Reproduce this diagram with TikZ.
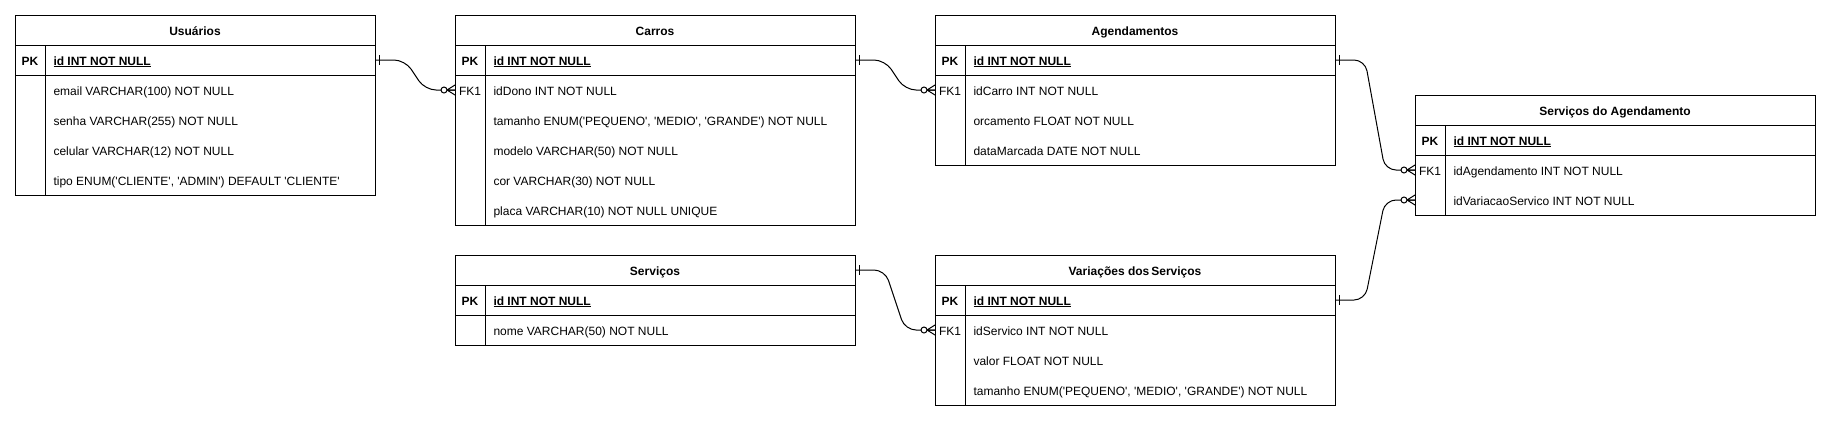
\documentclass[tikz,border=0pt,12pt]{standalone}
\usepackage{fontspec}
\setmainfont{Liberation Sans}[Ligatures=TeXOff]
\usetikzlibrary{positioning}

\tikzset{
  tbltitle/.style={draw, minimum width=#1, minimum height=30pt, inner sep=0pt, outer sep=0pt,
    text height=10pt, text depth=0pt, font=\bfseries},
  row/.style={minimum width=#1, minimum height=30pt, inner sep=0pt, outer sep=0pt},
  keylbl/.style={anchor=center, xshift=15pt, inner sep=0pt, text height=10pt, text depth=0pt},
  pklbl/.style={keylbl, font=\bfseries},
  fld/.style={anchor=west, xshift=38pt, inner sep=0pt, text height=10pt, text depth=0pt},
  pkfld/.style={fld, font=\bfseries},
  rel/.style={rounded corners=11pt},
  erone/.pic={\draw (4,-5) -- (4,5);},
  erzeromany/.pic={
    \draw (-8,0) -- (0,-5) (-8,0) -- (0,0) (-8,0) -- (0,5);
    \draw[fill=white] (-11,0) circle (3pt);
  }
}

\begin{document}
\begin{tikzpicture}[x=1pt, y=-1pt, line width=1pt]
\useasboundingbox[fill=white] (0,0) rectangle (1831,421);

% Usuarios
\node[tbltitle=360pt] (usr) at (195,30) {Usuários};
\node[row=360pt, draw, below=0pt of usr, label={[pklbl]west:PK}, label={[pkfld]west:{\underline{id INT NOT NULL}}}] (usr-id) {};
\node[row=360pt, below=0pt of usr-id, label={[fld]west:{email VARCHAR(100) NOT NULL}}] (usr-email) {};
\node[row=360pt, below=0pt of usr-email, label={[fld]west:{senha VARCHAR(255) NOT NULL}}] (usr-senha) {};
\node[row=360pt, below=0pt of usr-senha, label={[fld]west:{celular VARCHAR(12) NOT NULL}}] (usr-cel) {};
\node[row=360pt, below=0pt of usr-cel, label={[fld]west:{tipo ENUM('CLIENTE', 'ADMIN') DEFAULT 'CLIENTE'}}] (usr-tipo) {};
\draw (usr-email.north west) rectangle (usr-tipo.south east);
\draw ([xshift=30pt]usr-id.north west) -- ([xshift=30pt]usr-tipo.south west);

% Carros
\node[tbltitle=400pt] (car) at (655,30) {Carros};
\node[row=400pt, draw, below=0pt of car, label={[pklbl]west:PK}, label={[pkfld]west:{\underline{id INT NOT NULL}}}] (car-id) {};
\node[row=400pt, below=0pt of car-id, label={[keylbl]west:FK1}, label={[fld]west:{idDono INT NOT NULL}}] (car-dono) {};
\node[row=400pt, below=0pt of car-dono, label={[fld]west:{tamanho ENUM('PEQUENO', 'MEDIO', 'GRANDE') NOT NULL}}] (car-tam) {};
\node[row=400pt, below=0pt of car-tam, label={[fld]west:{modelo VARCHAR(50) NOT NULL}}] (car-mod) {};
\node[row=400pt, below=0pt of car-mod, label={[fld]west:{cor VARCHAR(30) NOT NULL}}] (car-cor) {};
\node[row=400pt, below=0pt of car-cor, label={[fld]west:{placa VARCHAR(10) NOT NULL UNIQUE}}] (car-placa) {};
\draw (car-dono.north west) rectangle (car-placa.south east);
\draw ([xshift=30pt]car-id.north west) -- ([xshift=30pt]car-placa.south west);

% Agendamentos
\node[tbltitle=400pt] (age) at (1135,30) {Agendamentos};
\node[row=400pt, draw, below=0pt of age, label={[pklbl]west:PK}, label={[pkfld]west:{\underline{id INT NOT NULL}}}] (age-id) {};
\node[row=400pt, below=0pt of age-id, label={[keylbl]west:FK1}, label={[fld]west:{idCarro INT NOT NULL}}] (age-carro) {};
\node[row=400pt, below=0pt of age-carro, label={[fld]west:{orcamento FLOAT NOT NULL}}] (age-orc) {};
\node[row=400pt, below=0pt of age-orc, label={[fld]west:{dataMarcada DATE NOT NULL}}] (age-data) {};
\draw (age-carro.north west) rectangle (age-data.south east);
\draw ([xshift=30pt]age-id.north west) -- ([xshift=30pt]age-data.south west);

% Servicos do Agendamento
\node[tbltitle=400pt] (sda) at (1615,110) {Serviços do Agendamento};
\node[row=400pt, draw, below=0pt of sda, label={[pklbl]west:PK}, label={[pkfld]west:{\underline{id INT NOT NULL}}}] (sda-id) {};
\node[row=400pt, below=0pt of sda-id, label={[keylbl]west:FK1}, label={[fld]west:{idAgendamento INT NOT NULL}}] (sda-age) {};
\node[row=400pt, below=0pt of sda-age, label={[fld]west:{idVariacaoServico INT NOT NULL}}] (sda-var) {};
\draw (sda-age.north west) rectangle (sda-var.south east);
\draw ([xshift=30pt]sda-id.north west) -- ([xshift=30pt]sda-var.south west);

% Servicos
\node[tbltitle=400pt] (srv) at (655,270) {Serviços};
\node[row=400pt, draw, below=0pt of srv, label={[pklbl]west:PK}, label={[pkfld]west:{\underline{id INT NOT NULL}}}] (srv-id) {};
\node[row=400pt, below=0pt of srv-id, label={[fld]west:{nome VARCHAR(50) NOT NULL}}] (srv-nome) {};
\draw (srv-nome.north west) rectangle (srv-nome.south east);
\draw ([xshift=30pt]srv-id.north west) -- ([xshift=30pt]srv-nome.south west);

% Variacoes dos Servicos
\node[tbltitle=400pt] (var) at (1135,270) {Variações dos\,Serviços};
\node[row=400pt, draw, below=0pt of var, label={[pklbl]west:PK}, label={[pkfld]west:{\underline{id INT NOT NULL}}}] (var-id) {};
\node[row=400pt, below=0pt of var-id, label={[keylbl]west:FK1}, label={[fld]west:{idServico INT NOT NULL}}] (var-srv) {};
\node[row=400pt, below=0pt of var-srv, label={[fld]west:{valor FLOAT NOT NULL}}] (var-valor) {};
\node[row=400pt, below=0pt of var-valor, label={[fld]west:{tamanho ENUM('PEQUENO', 'MEDIO', 'GRANDE') NOT NULL}}] (var-tam) {};
\draw (var-srv.north west) rectangle (var-tam.south east);
\draw ([xshift=30pt]var-id.north west) -- ([xshift=30pt]var-tam.south west);

% Relacoes
\draw[rel] (usr-id.east) -- ++(30,0) -- ([xshift=-30pt]car-dono.west) -- (car-dono.west);
\draw[rel] (car-id.east) -- ++(30,0) -- ([xshift=-30pt]age-carro.west) -- (age-carro.west);
\draw[rel] (age-id.east) -- ++(30,0) -- ([xshift=-30pt]sda-age.west) -- (sda-age.west);
\draw[rel] (srv.east) -- ++(30,0) -- ([xshift=-30pt]var-srv.west) -- (var-srv.west);
\draw[rel] (var-id.east) -- ++(30,0) -- ([xshift=-30pt]sda-var.west) -- (sda-var.west);

\pic at (usr-id.east) {erone};
\pic at (car-id.east) {erone};
\pic at (age-id.east) {erone};
\pic at (srv.east) {erone};
\pic at (var-id.east) {erone};
\pic at (car-dono.west) {erzeromany};
\pic at (age-carro.west) {erzeromany};
\pic at (sda-age.west) {erzeromany};
\pic at (var-srv.west) {erzeromany};
\pic at (sda-var.west) {erzeromany};
\end{tikzpicture}
\end{document}
